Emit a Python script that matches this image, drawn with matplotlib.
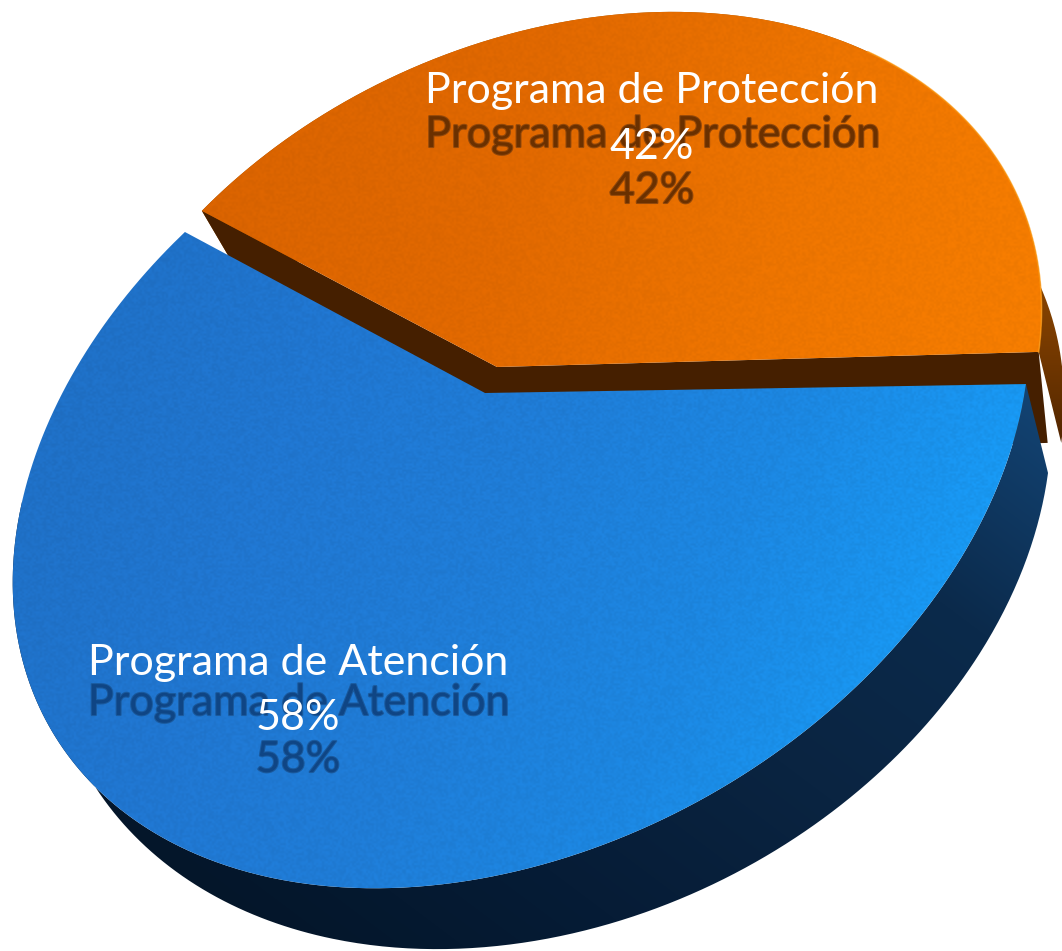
import matplotlib
matplotlib.use("Agg")
import matplotlib.patheffects as pe
import matplotlib.pyplot as plt
import numpy as np
from matplotlib.colors import to_rgb
from matplotlib.patches import PathPatch
from matplotlib.path import Path

categories = ["Programa de Atención", "Programa de Protección"]
shares = [58, 42]
share_labels = ["58%", "42%"]

plt.rcParams["font.family"] = ["Lato", "DejaVu Sans"]


def fit_homography(src, dst, weights=None):
    """Homography from the unit circle to the picture."""
    rows = []
    weights = np.ones(len(src)) if weights is None else weights
    for (x, y), (u, v), k in zip(src, dst, weights):
        u, v = u / 1000, v / 1000
        rows.append(k * np.array([x, y, 1, 0, 0, 0, -u * x, -u * y, -u]))
        rows.append(k * np.array([0, 0, 0, x, y, 1, -v * x, -v * y, -v]))
    _, _, vt = np.linalg.svd(np.array(rows, dtype=float))
    return np.diag([1000.0, 1000.0, 1.0]) @ vt[-1].reshape(3, 3)


def on_circle(deg):
    return np.cos(np.radians(deg)), np.sin(np.radians(deg))


def arc_xy(matrix, a, b, n=400):
    t = np.radians(np.linspace(a, b, n))
    w = matrix @ np.vstack([np.cos(t), np.sin(t), np.ones_like(t)])
    return w[0] / w[2], w[1] / w[2]


def refine(matrix, outline, fixed, a, b):
    """Slide outline points along the arc and refit, keeping the fixed ends."""
    outline = np.array(outline, dtype=float)
    grid = np.linspace(a, b, 1500)
    for _ in range(40):
        gx, gy = arc_xy(matrix, a, b, len(grid))
        nearest = [grid[np.argmin((gx - p[0]) ** 2 + (gy - p[1]) ** 2)] for p in outline]
        src = [on_circle(d) for d in nearest] + [on_circle(d) for d, _ in fixed]
        dst = list(outline) + [p for _, p in fixed]
        matrix = fit_homography(src, dst, [1.0] * len(outline) + [4.0] * len(fixed))
    return matrix


def grain(shape):
    """Fine speckle for the slice tops, from a sine hash."""
    yy, xx = np.mgrid[0:shape[0], 0:shape[1]]
    value = np.sin(xx * 12.9898 + yy * 78.233) * 43758.5453
    return (value - np.floor(value)) - 0.5


def gradient_fill(ax, px, py, colors, direction, zorder, speckle=0.0):
    """Fill a polygon with a linear colour ramp along direction."""
    patch = PathPatch(Path(np.c_[px, py]), fc="none", ec="none", zorder=zorder)
    ax.add_patch(patch)
    yy, xx = np.mgrid[0:951:2, 0:1062:2]
    along = px * direction[0] + py * direction[1]
    ramp = np.clip((xx * direction[0] + yy * direction[1] - along.min()) / (along.max() - along.min()), 0, 1)
    stops = np.linspace(0, 1, len(colors))
    rgb = np.dstack([np.interp(ramp, stops, [to_rgb(c)[k] for c in colors]) for k in range(3)])
    rgb = np.clip(rgb * (1 + speckle * grain(ramp.shape))[..., None], 0, 1)
    im = ax.imshow(rgb, extent=(0, 1062, 951, 0), zorder=zorder, interpolation="bilinear", aspect="auto")
    im.set_clip_path(patch)


# the orange slice is centred on the top of the circle
orange_sweep = 360 * shares[1] / sum(shares)
start = 90 - orange_sweep / 2
end = 90 + orange_sweep / 2
wrap = 360 + start

blue_apex = (485, 393)
orange_apex = (497, 367)
blue_corner_right = (1026, 384)
blue_corner_left = (185, 232)
orange_corner_right = (1039, 352)
orange_corner_left = (202, 211)

# outlines of the slice tops and of the blue lower rim
blue_outline = [(990, 500), (933, 600), (867, 677), (800, 733), (700, 807), (600, 843), (367, 887),
                (267, 875), (100, 793), (13, 590), (20, 503), (50, 420), (100, 330)]
rim_outline = [(1043, 500), (1017, 583), (967, 680), (900, 747), (800, 830), (700, 890), (600, 933),
               (267, 920), (177, 867), (100, 793), (60, 720)]
orange_outline = [(290, 128), (390, 80), (490, 42), (590, 20), (690, 12), (780, 22), (880, 57),
                  (953, 103), (1000, 163), (1023, 213), (1035, 267), (1038, 310)]

seed_map = fit_homography(
    [on_circle(start), on_circle(end), on_circle(270), on_circle(205)],
    [blue_corner_right, blue_corner_left, (345, 880), (14, 570)],
)
blue_map = refine(seed_map, blue_outline, [(wrap, blue_corner_right), (end, blue_corner_left)], end, wrap)
rim_map = refine(np.array([[1, 0, 60], [0, 1, 60], [0, 0, 1.0]]) @ blue_map,
                 rim_outline, [(wrap, (1048, 473))], end, wrap)
orange_seed = fit_homography(
    [(0, 0), on_circle(start), on_circle(end), on_circle(90)],
    [orange_apex, orange_corner_right, orange_corner_left, (640, 12)],
)
orange_map = refine(orange_seed, orange_outline,
                    [(start, orange_corner_right), (end, orange_corner_left)], start, end)


def orange_drop(x, y):
    return x * 0.963 + 61, y + 91


fig = plt.figure(figsize=(10.62, 9.51), dpi=100)
ax = fig.add_axes([0, 0, 1, 1])

# orange slice: outer wall, cut walls, then the top
ox, oy = arc_xy(orange_map, start, end)
odx, ody = orange_drop(ox, oy)
gradient_fill(ax, np.r_[ox, odx[::-1]], np.r_[oy, ody[::-1]],
              ["#a85a00", "#a05400", "#944c00", "#7a3c00", "#522600"], (0.0, 1.0), 1)
ax_, ay_ = orange_drop(orange_apex[0], orange_apex[1])
wall_x = [ox[0], orange_apex[0], ox[-1], odx[-1], ax_, ox[0] + 9]
wall_y = [oy[0], orange_apex[1], oy[-1], ody[-1], ay_, oy[0] + 91]
ax.fill(wall_x, wall_y, color="#451f00", lw=0, zorder=2)
gradient_fill(ax, np.r_[orange_apex[0], ox, orange_apex[0]], np.r_[orange_apex[1], oy, orange_apex[1]],
              ["#d96300", "#e06800", "#ec7400", "#f57d00"], (0.9, 0.3), 3, speckle=0.05)
ax.plot(ox[:120], oy[:120], color="#ff9a10", lw=1.2, alpha=0.7, zorder=4)

# blue slice: the rim starts low on the left, where the top hides its end
bx, by = arc_xy(blue_map, end, wrap)
tx, ty = arc_xy(blue_map, 200, wrap)
rx, ry = arc_xy(rim_map, 200, wrap)
gradient_fill(ax, np.r_[tx, rx[::-1]], np.r_[ty, ry[::-1]],
              ["#04162a", "#061c36", "#0a2441", "#0b2a4b", "#134474"], (0.6, -0.8), 5)
gradient_fill(ax, np.r_[blue_apex[0], bx, blue_apex[0]], np.r_[blue_apex[1], by, blue_apex[1]],
              ["#1f70c6", "#2076d0", "#1f7cd6", "#1c86e0", "#1898f2"], (0.85, 0.35), 6, speckle=0.07)

for name, share, x, y, name_gap, pct_gap, pct_shadow, dark, edge in [
    (categories[1], share_labels[1], 652, 91, 44, 56, 100, "#6a3000", "#93480a"),
    (categories[0], share_labels[0], 298, 663, 40, 55, 97, "#0f4584", "#1a5a9e"),
]:
    soft = [pe.withStroke(linewidth=1.5, foreground=edge)]
    ax.text(x, y + name_gap, name, fontsize=31, color=dark, ha="center", va="center", zorder=7, path_effects=soft)
    ax.text(x, y + pct_shadow, share, fontsize=31, color=dark, ha="center", va="center", zorder=7, path_effects=soft)
    ax.text(x, y, name, fontsize=31, color="white", ha="center", va="center", zorder=8)
    ax.text(x, y + pct_gap, share, fontsize=31, color="white", ha="center", va="center", zorder=8)

ax.set_xlim(0, 1062)
ax.set_ylim(951, 0)
ax.axis("off")
fig.savefig("out.png", dpi=100, facecolor="white")
